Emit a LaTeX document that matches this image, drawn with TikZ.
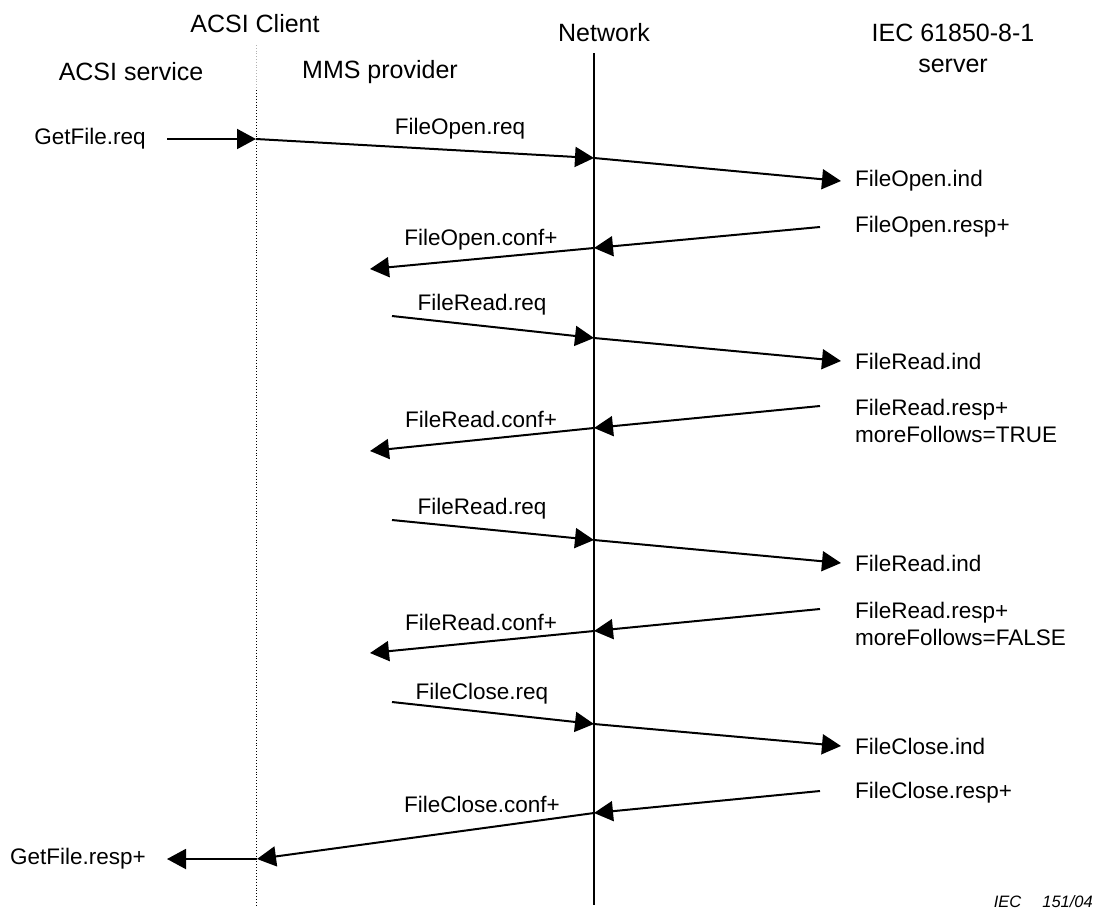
\documentclass[tikz,border=0pt]{standalone}
\usepackage{fontspec}
\setmainfont{Liberation Sans}
\usetikzlibrary{arrows.meta}

\tikzset{
    msg/.style={line width=2pt, -{Triangle[length=19pt,width=20pt]}},
    seg/.style={line width=2pt},
    txt/.style={font=\fontsize{22.5}{27}\selectfont, inner sep=0pt},
    txtleft/.style={txt, anchor=west, align=left},
    head/.style={font=\fontsize{25}{31}\selectfont, inner sep=0pt},
}

\begin{document}
\begin{tikzpicture}[x=1pt,y=-1pt]
\useasboundingbox (0,0) rectangle (1098,911);

% Kopfzeilen
\node[head] (client)  at (255,24)  {ACSI Client};
\node[head] (service) at (131,72)  {ACSI service};
\node[head] (mms)     at (380,72)  {MMS provider};
\node[head] (network) at (604,33)  {Network};
\node[head, align=center] (server) at (953,48) {IEC 61850-8-1\\server};

% Lebenslinien
\coordinate (clTop)  at (256,45);
\coordinate (clMid)  at (256,90);
\coordinate (clBot)  at (256,905);
\coordinate (netTop) at (594,53);
\coordinate (netBot) at (594,905);
\draw[dotted, line width=0.8pt, gray!60] (clTop) -- (clMid);
\draw[dotted, line width=0.9pt] (clMid) -- (clBot);
\draw[seg] (netTop) -- (netBot);

% GetFile.req -> FileOpen.req -> FileOpen.ind
\node[txt] (getreq) at (90,139) {GetFile.req};
\coordinate (getreqA) at (167,139);
\coordinate (clReq)   at (256,139);
\coordinate (netOpen) at (594,158);
\coordinate (indOpen) at (841,181);
\draw[msg] (getreqA) -- (clReq);
\draw[msg] (clReq) -- (netOpen);
\draw[msg] (netOpen) -- (indOpen);
\node[txt] (openreq) at (460,129) {FileOpen.req};
\node[txtleft] (openind) at (855,181) {FileOpen.ind};

% FileRead.req / FileClose.req
\foreach \i/\name/\ya/\yb/\yc/\yl in {1/FileRead/316/338/361/305,
                                       2/FileRead/520/540/563/509,
                                       3/FileClose/702/724/746/694} {
    \coordinate (reqA\i) at (392,\ya);
    \coordinate (reqN\i) at (594,\yb);
    \coordinate (reqB\i) at (841,\yc);
    \draw[msg] (reqA\i) -- (reqN\i);
    \draw[msg] (reqN\i) -- (reqB\i);
    \node[txt] (reqlbl\i) at (482,\yl) {\name.req};
    \node[txtleft] (indlbl\i) at (855,\yc) {\name.ind};
}

% Antworten
\foreach \i/\name/\ya/\yb/\yc/\yl in {1/FileOpen/227/248/269/240,
                                       2/FileRead/406/428/451/419,
                                       3/FileRead/609/631/653/622} {
    \coordinate (respA\i) at (820,\ya);
    \coordinate (respN\i) at (594,\yb);
    \coordinate (respB\i) at (370,\yc);
    \draw[msg] (respA\i) -- (respN\i);
    \draw[msg] (respN\i) -- (respB\i);
    \node[txt] (conflbl\i) at (481,\yl) {\name.conf+};
}
\node[txtleft] (resplbl1) at (855,227) {FileOpen.resp+};
\node[txtleft] (resplbl2) at (855,421) {FileRead.resp+\\moreFollows=TRUE};
\node[txtleft] (resplbl3) at (855,624) {FileRead.resp+\\moreFollows=FALSE};

% FileClose.resp+ -> GetFile.resp+
\coordinate (closeA) at (820,791);
\coordinate (closeN) at (594,813);
\coordinate (clResp) at (257,859);
\coordinate (getresp) at (167,859);
\draw[msg] (closeA) -- (closeN);
\draw[msg] (closeN) -- (clResp);
\draw[msg] (clResp) -- (getresp);
\node[txtleft] (closeresp) at (855,793) {FileClose.resp+};
\node[txt] (closeconf) at (482,804) {FileClose.conf+};
\node[txt] (getresplbl) at (78,859) {GetFile.resp+};

% Kennung
\node[inner sep=0pt, anchor=east, font=\fontsize{16.5}{19}\selectfont\itshape] (iec) at (1093,902) {IEC\hspace{21pt}151/04};
\end{tikzpicture}
\end{document}
